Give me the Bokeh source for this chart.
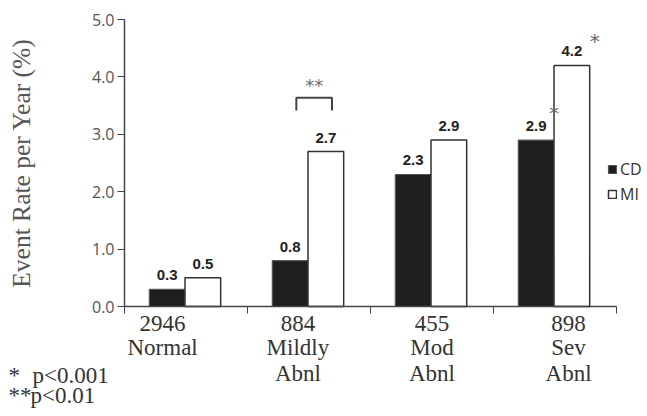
from bokeh.plotting import figure
from bokeh.models import (Range1d, FixedTicker, PrintfTickFormatter, Legend, LegendItem,
                          Label, LabelSet, ColumnDataSource, LinearAxis)
from bokeh.core.properties import value
from bokeh.embed import file_html
from bokeh.resources import INLINE

# ---- data ----
categories = ["Normal", "Mildly Abnl", "Mod Abnl", "Sev Abnl"]
counts = ["2946", "884", "455", "898"]
cd_values = [0.3, 0.8, 2.3, 2.9]
mi_values = [0.5, 2.7, 2.9, 4.2]
tick_labels = ["2946\nNormal", "884\nMildly\nAbnl", "455\nMod\nAbnl", "898\nSev\nAbnl"]
series_names = ["CD", "MI"]
footnote_marks = ["*", "**"]
footnote_texts = ["p<0.001", "p<0.01"]
y_ticks = [0, 1, 2, 3, 4, 5]

# ---- layout helpers ----
idx = list(range(len(categories)))
bar_w = 0.29
cd_x = [i + 0.347 for i in idx]
mi_x = [i + 0.637 for i in idx]
label_offsets = [0.31, 0.41, 0.50, 0.61]
label_pos = [i + o for i, o in zip(idx, label_offsets)]

p = figure(width=647, height=416, output_backend="svg", toolbar_location=None,
           x_range=Range1d(-1.008, 4.252), y_range=Range1d(-1.916, 5.331),
           min_border=0, min_border_left=0, min_border_right=0,
           min_border_top=0, min_border_bottom=0)
p.outline_line_color = None
p.grid.visible = False
p.background_fill_color = "white"
p.border_fill_color = "white"

src_cd = ColumnDataSource(dict(x=cd_x, top=cd_values, txt=[f"{v:.1f}" for v in cd_values]))
src_mi = ColumnDataSource(dict(x=mi_x, top=mi_values, txt=[f"{v:.1f}" for v in mi_values]))

r_cd = p.vbar(x="x", top="top", width=bar_w, bottom=0, source=src_cd,
              fill_color="#1e1e1e", line_color="#555555", line_width=1.2)
r_mi = p.vbar(x="x", top="top", width=bar_w, bottom=0, source=src_mi,
              fill_color="white", line_color="#333333", line_width=1.5)

for src in (src_cd, src_mi):
    p.add_layout(LabelSet(x="x", y="top", text="txt", source=src, y_offset=14,
                          text_align="center", text_baseline="middle",
                          text_font=value("Liberation Sans"), text_font_style="bold",
                          text_font_size="15px", text_color="#222222"))

# y axis (drawn at x = 0)
yax = p.yaxis[0]
yax.fixed_location = 0
yax.bounds = (0, 5)
yax.ticker = FixedTicker(ticks=y_ticks)
yax.formatter = PrintfTickFormatter(format="%.1f")
yax.axis_line_color = "#444444"
yax.axis_line_width = 1.5
yax.major_tick_line_color = "#444444"
yax.major_tick_out = 7
yax.major_tick_in = 0
yax.minor_tick_line_color = None
yax.major_label_text_font = "Open Sans"
yax.major_label_text_font_size = "16px"
yax.major_label_text_color = "#555555"
yax.major_label_standoff = 3
yax.axis_label = "Event Rate per Year (%)"
yax.axis_label_text_font = "Liberation Serif"
yax.axis_label_text_font_style = "normal"
yax.axis_label_text_font_size = "25.5px"
yax.axis_label_text_color = "#555555"
yax.axis_label_standoff = 53

# x axis (drawn at y = 0): line + category boundary ticks + first label line
label_lines = [lab.split("\n") for lab in tick_labels]
line_standoffs = [2, 28, 54]

xax = p.xaxis[0]
xax.fixed_location = 0
xax.bounds = (0, 4)
xax.axis_line_color = "#444444"
xax.axis_line_width = 1.5
xax.major_tick_line_color = None
xax.major_tick_out = 0
xax.major_tick_in = 0
xax.minor_tick_line_color = "#444444"
xax.minor_tick_out = 7
xax.minor_tick_in = 0

axes = [xax]
for k in range(1, 3):
    ax = LinearAxis(fixed_location=0, axis_line_color=None, major_tick_line_color=None,
                    minor_tick_line_color=None, major_tick_out=0, major_tick_in=0)
    p.add_layout(ax, "below")
    axes.append(ax)

for k, ax in enumerate(axes):
    pos_k = [pos for pos, lines in zip(label_pos, label_lines) if len(lines) > k]
    txt_k = [lines[k] for lines in label_lines if len(lines) > k]
    if k == 0:
        ax.ticker = FixedTicker(ticks=pos_k, minor_ticks=[0, 1, 2, 3, 4])
    else:
        ax.ticker = FixedTicker(ticks=pos_k, minor_ticks=[])
    ax.major_label_overrides = {pos: t for pos, t in zip(pos_k, txt_k)}
    ax.major_label_text_font = "Liberation Serif"
    ax.major_label_text_font_size = "23px"
    ax.major_label_text_color = "#333333"
    ax.major_label_standoff = line_standoffs[k]

# significance bracket over Mildly Abnl
bx0 = cd_x[1] + 0.05
bx1 = mi_x[1] + 0.05
by_top = mi_values[1] + 0.936
by_bot = mi_values[1] + 0.715
p.line(x=[bx0, bx0, bx1, bx1], y=[by_bot, by_top, by_top, by_bot],
       line_color="#444444", line_width=2)
p.add_layout(Label(x=(bx0 + bx1) / 2, y=by_top, y_offset=12, text="**",
                   text_align="center", text_baseline="alphabetic",
                   text_font="DejaVu Sans", text_font_size="18px", text_color="#707070"))

# asterisks for severe abnormal
p.add_layout(Label(x=cd_x[3] + bar_w / 2, y=cd_values[3], y_offset=27, text="*",
                   text_align="center", text_baseline="alphabetic",
                   text_font="DejaVu Sans", text_font_size="20px", text_color="#666666"))
p.add_layout(Label(x=mi_x[3] + bar_w / 2, y=mi_values[3], x_offset=5, y_offset=24, text="*",
                   text_align="center", text_baseline="alphabetic",
                   text_font="DejaVu Sans", text_font_size="20px", text_color="#666666"))

# footnotes
mark_x = -0.943
text_x = [-0.748, -0.764]
for k in range(len(footnote_marks)):
    yk = -1.20 - 0.35 * k
    p.add_layout(Label(x=mark_x, y=yk, text=footnote_marks[k],
                       text_align="left", text_baseline="alphabetic",
                       text_font="Liberation Serif", text_font_size="23px",
                       text_color="#333333"))
    p.add_layout(Label(x=text_x[k], y=yk, text=footnote_texts[k],
                       text_align="left", text_baseline="alphabetic",
                       text_font="Liberation Serif", text_font_size="23px",
                       text_color="#333333"))

legend = Legend(items=[LegendItem(label=series_names[0], renderers=[r_cd]),
                       LegendItem(label=series_names[1], renderers=[r_mi])],
                location=(607, 211), glyph_width=10, glyph_height=10, label_height=20,
                spacing=3, padding=0, margin=0, border_line_color=None,
                background_fill_alpha=0, label_text_font="Open Sans",
                label_text_font_size="16px", label_text_color="#333333", label_standoff=3)
p.add_layout(legend)

open("out.html", "w").write(file_html(p, INLINE))
